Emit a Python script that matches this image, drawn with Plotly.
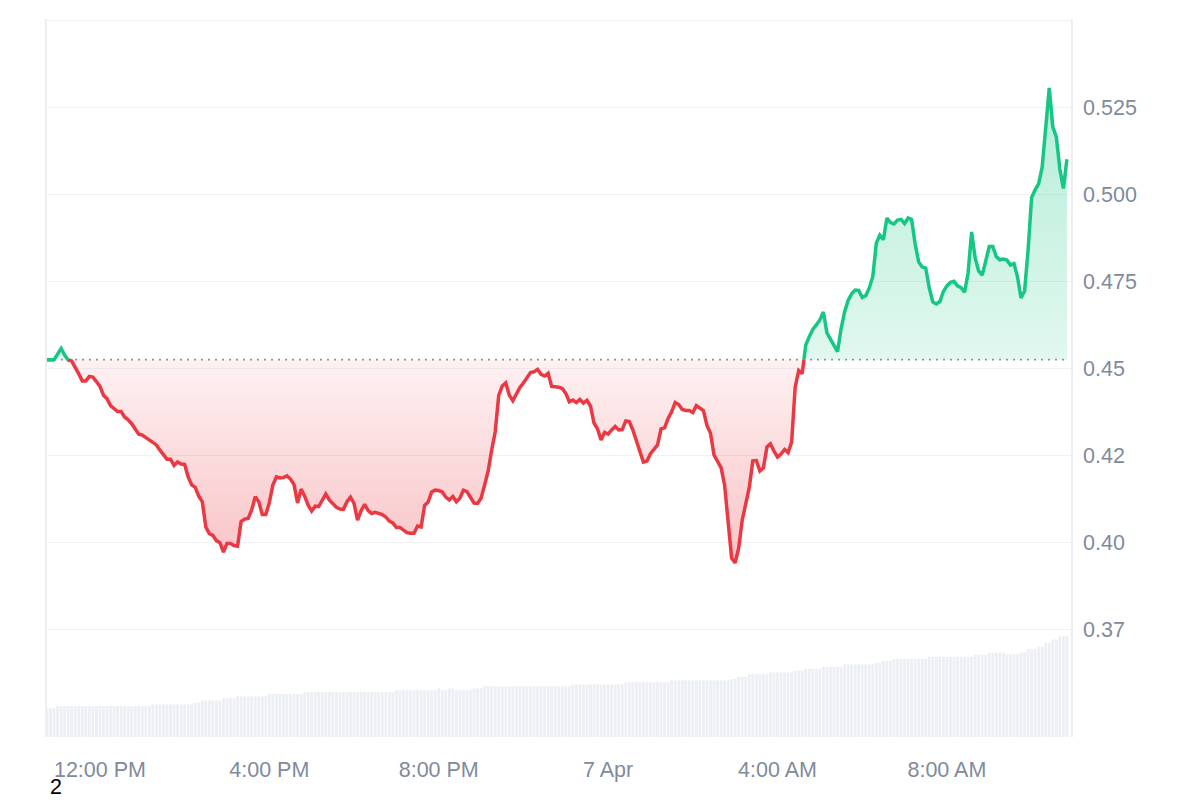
import plotly.graph_objects as go
import pandas as pd

# ---- data (5-minute samples) ----
start_time = "2025-04-06 10:45"
price = [
    0.4524, 0.4524, 0.4524, 0.4540, 0.4556, 0.4537, 0.4523, 0.4520, 0.4503, 0.4483,
    0.4463, 0.4463, 0.4476, 0.4474, 0.4461, 0.4447, 0.4422, 0.4412, 0.4392, 0.4382,
    0.4375, 0.4375, 0.4359, 0.4351, 0.4340, 0.4325, 0.4310, 0.4307, 0.4300, 0.4292,
    0.4284, 0.4279, 0.4264, 0.4250, 0.4238, 0.4238, 0.4220, 0.4230, 0.4224, 0.4223,
    0.4187, 0.4164, 0.4157, 0.4132, 0.4116, 0.4043, 0.4024, 0.4019, 0.4004, 0.3998,
    0.3971, 0.3996, 0.3996, 0.3990, 0.3988, 0.4059, 0.4066, 0.4068, 0.4092, 0.4130,
    0.4116, 0.4079, 0.4079, 0.4113, 0.4164, 0.4187, 0.4184, 0.4185, 0.4190, 0.4181,
    0.4165, 0.4112, 0.4152, 0.4132, 0.4106, 0.4089, 0.4103, 0.4102, 0.4121, 0.4138,
    0.4121, 0.4109, 0.4100, 0.4095, 0.4094, 0.4116, 0.4129, 0.4111, 0.4063, 0.4090,
    0.4108, 0.4090, 0.4082, 0.4085, 0.4083, 0.4079, 0.4072, 0.4060, 0.4055, 0.4042,
    0.4042, 0.4034, 0.4027, 0.4025, 0.4025, 0.4046, 0.4043, 0.4105, 0.4115, 0.4144,
    0.4149, 0.4148, 0.4144, 0.4129, 0.4121, 0.4131, 0.4116, 0.4126, 0.4149, 0.4145,
    0.4129, 0.4112, 0.4111, 0.4126, 0.4164, 0.4204, 0.4264, 0.4316, 0.4421, 0.4448,
    0.4457, 0.4422, 0.4406, 0.4425, 0.4444, 0.4457, 0.4470, 0.4487, 0.4489, 0.4496,
    0.4482, 0.4477, 0.4485, 0.4447, 0.4446, 0.4445, 0.4441, 0.4427, 0.4403, 0.4408,
    0.4401, 0.4410, 0.4399, 0.4407, 0.4391, 0.4342, 0.4325, 0.4293, 0.4315, 0.4310,
    0.4322, 0.4332, 0.4322, 0.4323, 0.4348, 0.4346, 0.4322, 0.4290, 0.4259, 0.4230,
    0.4233, 0.4254, 0.4266, 0.4279, 0.4325, 0.4328, 0.4355, 0.4374, 0.4401, 0.4395,
    0.4381, 0.4378, 0.4378, 0.4372, 0.4392, 0.4385, 0.4378, 0.4335, 0.4313, 0.4250,
    0.4230, 0.4214, 0.4164, 0.4049, 0.3954, 0.3940, 0.3983, 0.4063, 0.4112, 0.4157,
    0.4233, 0.4234, 0.4204, 0.4213, 0.4273, 0.4282, 0.4261, 0.4244, 0.4253, 0.4266,
    0.4257, 0.4287, 0.4445, 0.4493, 0.4484, 0.4566, 0.4590, 0.4611, 0.4624, 0.4638,
    0.4661, 0.4601, 0.4583, 0.4566, 0.4547, 0.4612, 0.4661, 0.4694, 0.4713, 0.4724,
    0.4723, 0.4703, 0.4708, 0.4730, 0.4763, 0.4859, 0.4882, 0.4869, 0.4931, 0.4918,
    0.4914, 0.4925, 0.4927, 0.4915, 0.4931, 0.4927, 0.4856, 0.4805, 0.4790, 0.4787,
    0.4730, 0.4690, 0.4684, 0.4691, 0.4720, 0.4736, 0.4746, 0.4749, 0.4736, 0.4731,
    0.4718, 0.4773, 0.4891, 0.4816, 0.4779, 0.4767, 0.4808, 0.4849, 0.4849, 0.4820,
    0.4811, 0.4813, 0.4810, 0.4796, 0.4800, 0.4762, 0.4701, 0.4721, 0.4839, 0.4990,
    0.5012, 0.5030, 0.5078, 0.5184, 0.5305, 0.5193, 0.5164, 0.5072, 0.5016, 0.5100,
]

volume = [  # millions, per 5-minute bar
    28.7, 28.7, 28.7, 31.0, 31.0, 31.0, 31.0, 31.0, 31.0, 31.0,
    31.0, 31.0, 31.0, 31.0, 31.0, 31.0, 31.0, 31.0, 31.0, 31.0,
    31.0, 31.0, 31.0, 31.0, 31.0, 31.0, 31.0, 31.0, 31.0, 31.0,
    32.7, 32.7, 32.7, 32.7, 32.7, 32.7, 32.7, 32.7, 32.7, 32.7,
    32.7, 32.7, 34.3, 34.3, 36.7, 36.7, 36.7, 36.7, 36.7, 36.7,
    38.7, 38.7, 38.7, 38.7, 40.7, 40.7, 40.7, 40.7, 40.7, 40.7,
    40.7, 40.7, 40.7, 43.0, 43.0, 43.0, 43.0, 43.0, 43.0, 43.0,
    43.0, 43.0, 43.0, 45.0, 45.0, 45.0, 45.0, 45.0, 45.0, 45.0,
    45.0, 45.0, 45.0, 45.0, 45.0, 45.0, 45.0, 45.0, 45.0, 45.0,
    45.0, 45.0, 45.0, 45.0, 45.0, 45.0, 45.0, 45.0, 45.0, 46.7,
    46.7, 46.7, 46.7, 46.7, 46.7, 46.7, 46.7, 46.7, 46.7, 46.7,
    46.7, 48.7, 47.0, 47.0, 48.7, 48.7, 46.7, 46.7, 46.7, 46.7,
    46.7, 48.7, 48.7, 48.7, 50.7, 50.7, 50.7, 50.7, 50.7, 50.7,
    50.7, 50.7, 50.7, 50.7, 50.7, 50.7, 50.7, 50.7, 50.7, 50.7,
    50.7, 50.7, 50.7, 50.7, 50.7, 50.7, 50.7, 50.7, 50.7, 52.7,
    52.7, 52.7, 52.7, 52.7, 52.7, 52.7, 52.7, 52.7, 52.7, 52.7,
    52.7, 52.7, 52.7, 52.7, 54.7, 54.7, 54.7, 54.7, 54.7, 54.7,
    54.7, 54.7, 54.7, 54.7, 54.7, 54.7, 54.7, 56.7, 56.7, 56.7,
    56.7, 56.7, 56.7, 56.7, 56.7, 56.7, 56.7, 56.7, 56.7, 56.7,
    56.7, 56.7, 56.7, 56.7, 58.0, 58.0, 60.0, 60.0, 60.0, 62.7,
    62.7, 62.7, 62.7, 62.7, 62.7, 64.7, 64.7, 64.7, 64.7, 64.7,
    64.7, 64.7, 66.3, 66.3, 66.3, 68.3, 68.3, 68.3, 68.3, 68.3,
    70.3, 70.3, 70.3, 70.3, 70.3, 70.3, 72.7, 72.7, 72.7, 72.7,
    72.7, 72.7, 72.7, 72.7, 72.7, 74.3, 74.3, 76.3, 76.3, 76.3,
    78.3, 78.3, 78.3, 78.3, 78.3, 78.3, 78.3, 78.3, 78.3, 78.3,
    80.3, 80.3, 80.3, 80.3, 80.3, 80.3, 80.3, 80.3, 80.3, 80.3,
    80.3, 80.3, 80.3, 82.3, 82.3, 82.3, 82.3, 84.3, 84.3, 84.3,
    84.3, 84.3, 82.7, 82.7, 82.7, 82.7, 84.7, 84.7, 88.0, 88.0,
    88.0, 90.3, 90.3, 94.3, 94.3, 97.7, 97.7, 100.7, 100.7, 100.7,
]

x_tick_times = ["2025-04-06 12:00", "2025-04-06 16:00", "2025-04-06 20:00",
                "2025-04-07 00:00", "2025-04-07 04:00", "2025-04-07 08:00"]
x_tick_text = ["12:00 PM", "4:00 PM", "8:00 PM", "7 Apr", "4:00 AM", "8:00 AM"]
y_tick_vals = [0.375, 0.400, 0.425, 0.450, 0.475, 0.500, 0.525, 0.550]
y_tick_text = ["0.37", "0.40", "0.42", "0.45", "0.475", "0.500", "0.525", ""]

# ---- styling ----
RED = "#ea3943"
GREEN = "#16c784"
GRID = "#eff2f5"
LABEL = "#808a9d"
FONT = "Liberation Sans, Arial, sans-serif"
FS = 21.5

times = pd.date_range(start_time, periods=len(price), freq="5min")
base = price[0]

# insert baseline crossings so red/green parts meet exactly on the baseline
mx, my = [], []
for i, v in enumerate(price):
    if i > 0:
        p = price[i - 1]
        if (p - base) * (v - base) < 0:
            f = (base - p) / (v - p)
            t0, t1 = times[i - 1].value, times[i].value
            mx.append(pd.Timestamp(int(t0 + f * (t1 - t0))))
            my.append(base)
    mx.append(times[i])
    my.append(v)

up_fill = [max(v, base) for v in my]
dn_fill = [min(v, base) for v in my]
green_line = [v if v >= base else None for v in my]
red_line = [v if v <= base else None for v in my]
base_line = [base for _ in my]

fig = go.Figure()

# volume bars (own hidden axis)
fig.add_trace(go.Bar(x=list(times), y=volume, yaxis="y2",
                     marker=dict(color="#eceff3", line=dict(width=0)),
                     hoverinfo="skip", showlegend=False))

# red fill below baseline
fig.add_trace(go.Scatter(x=mx, y=base_line, mode="lines", line=dict(width=0),
                         hoverinfo="skip", showlegend=False))
fig.add_trace(go.Scatter(x=mx, y=dn_fill, mode="lines", line=dict(width=0),
                         fill="tonexty",
                         fillgradient=dict(type="vertical",
                                           colorscale=[[0, "rgba(234,57,67,0.30)"],
                                                       [1, "rgba(234,57,67,0.07)"]],
                                           start=min(price), stop=base),
                         hoverinfo="skip", showlegend=False))
# green fill above baseline
fig.add_trace(go.Scatter(x=mx, y=base_line, mode="lines", line=dict(width=0),
                         hoverinfo="skip", showlegend=False))
fig.add_trace(go.Scatter(x=mx, y=up_fill, mode="lines", line=dict(width=0),
                         fill="tonexty",
                         fillgradient=dict(type="vertical",
                                           colorscale=[[0, "rgba(22,199,132,0.13)"],
                                                       [1, "rgba(22,199,132,0.32)"]],
                                           start=base, stop=max(price)),
                         hoverinfo="skip", showlegend=False))
# dotted baseline
fig.add_trace(go.Scatter(x=[times[0], times[-1]], y=[base, base], mode="lines",
                         line=dict(color="#8e95a2", width=1.6, dash="2px,5px"),
                         hoverinfo="skip", showlegend=False))
# price lines
fig.add_trace(go.Scatter(x=mx, y=red_line, mode="lines",
                         line=dict(color=RED, width=3.5),
                         connectgaps=False, showlegend=False))
fig.add_trace(go.Scatter(x=mx, y=green_line, mode="lines",
                         line=dict(color=GREEN, width=3.5),
                         connectgaps=False, showlegend=False))

x_end = times[0] + pd.Timedelta(minutes=1450.8)

# the page body adds an 8px offset, so the figure is 8px smaller each way
fig.update_layout(
    width=1192, height=792,
    margin=dict(l=39, r=129, t=11, b=63),
    paper_bgcolor="white", plot_bgcolor="white",
    font=dict(family=FONT, size=FS, color=LABEL),
    bargap=0.2,
    showlegend=False,
    xaxis=dict(range=[times[0], x_end], tickvals=x_tick_times, ticktext=x_tick_text,
               showgrid=False, zeroline=False, showline=False, ticks="",
               ticklabelstandoff=17,
               tickfont=dict(size=FS, color=LABEL, family=FONT)),
    yaxis=dict(side="right", range=[0.34397, 0.55029], tickvals=y_tick_vals,
               ticktext=y_tick_text, showgrid=True, gridcolor=GRID, gridwidth=1,
               zeroline=False, showline=True, mirror=True, linecolor="#eceef1",
               linewidth=1.5, ticks="", ticklabelstandoff=6,
               tickfont=dict(size=FS, color=LABEL, family=FONT)),
    yaxis2=dict(overlaying="y", range=[0, 718], visible=False, fixedrange=True),
)

fig.add_annotation(text="2", xref="paper", yref="paper",
                   x=(56 - 47) / 1024, y=(737 - 799.5) / 718,
                   xanchor="center", yanchor="bottom", showarrow=False,
                   borderpad=0,
                   font=dict(family=FONT, size=FS, color="black"))

fig.write_html("out.html")
